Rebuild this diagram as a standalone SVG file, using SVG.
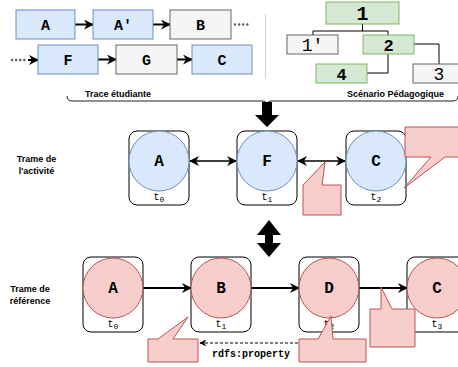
<svg xmlns="http://www.w3.org/2000/svg" width="458" height="367" viewBox="0 0 458 367">
<style>
.blue{fill:#dae8fc;stroke:#6c8ebf;stroke-width:1}
.grey{fill:#f5f5f5;stroke:#666666;stroke-width:1}
.green{fill:#d5e8d4;stroke:#82b366;stroke-width:1}
.red{fill:#f8cecc;stroke:#b85450;stroke-width:1}
.frame{fill:#ffffff;stroke:#000000;stroke-width:1}
.mono{font-family:"Liberation Mono","Courier New",monospace;fill:#000;text-anchor:middle}
.b{font-weight:bold}
.sans{font-family:"Liberation Sans",Arial,Helvetica,sans-serif;font-weight:bold;font-size:9px;fill:#000}
.edge{fill:none;stroke:#000;}
.dot{fill:none;stroke:#5a5a6a;stroke-width:2.4;stroke-dasharray:0.1 4;stroke-linecap:round}
</style>
<defs>
<marker id="ah" viewBox="0 0 10 10" refX="9" refY="5" markerUnits="userSpaceOnUse" markerWidth="10" markerHeight="10" orient="auto-start-reverse">
<path d="M0,0 L10,5 L0,10 L3,5 Z" fill="#000"/>
</marker>
<marker id="ahs" viewBox="0 0 10 10" refX="9" refY="5" markerUnits="userSpaceOnUse" markerWidth="7" markerHeight="7" orient="auto-start-reverse">
<path d="M0,0 L10,5 L0,10 L3,5 Z" fill="#000"/>
</marker>
</defs>
<rect width="458" height="367" fill="#ffffff"/>

<!-- separator and brace -->
<line x1="265.5" y1="14" x2="265.5" y2="79" stroke="#d0d0d0" stroke-width="1"/>
<path d="M67,96 Q67,101 72,101 L262,101 Q267,101 267,104 Q267,101 272,101 L453,101 Q458,101 458,96" fill="none" stroke="#222" stroke-width="1"/>
<text class="sans" x="85" y="97">Trace étudiante</text>
<text class="sans" x="444" y="97" text-anchor="end">Scénario Pédagogique</text>

<g id="connectors">
<!-- top trace -->
<line class="edge" x1="75" y1="24.5" x2="93" y2="24.5" stroke-width="2" marker-end="url(#ah)"/>
<line class="edge" x1="153" y1="24.5" x2="170" y2="24.5" stroke-width="2" marker-end="url(#ah)"/>
<line class="dot" x1="235" y1="24.5" x2="251" y2="24.5"/>
<line class="dot" x1="12" y1="60" x2="28" y2="60"/>
<line class="edge" x1="28" y1="60" x2="38" y2="60" stroke-width="2" marker-end="url(#ah)"/>
<line class="edge" x1="98" y1="59.5" x2="116" y2="59.5" stroke-width="2" marker-end="url(#ah)"/>
<line class="edge" x1="177" y1="59.5" x2="192" y2="59.5" stroke-width="2" marker-end="url(#ah)"/>
<!-- tree -->
<path class="edge" d="M362.5,24 V31 M313,35 V31 H388 V35 M414,44 H439 V64 M388,54 V73 H367" stroke-width="1"/>
<!-- activity -->
<line class="edge" x1="190" y1="161" x2="236" y2="161" stroke-width="1.5" marker-start="url(#ah)" marker-end="url(#ah)"/>
<line class="edge" x1="298" y1="161" x2="345" y2="161" stroke-width="1.5" marker-start="url(#ah)" marker-end="url(#ah)"/>
<!-- reference -->
<line class="edge" x1="143" y1="288" x2="191" y2="288" stroke-width="2" marker-end="url(#ah)"/>
<line class="edge" x1="251" y1="288" x2="299" y2="288" stroke-width="2" marker-end="url(#ah)"/>
<line class="edge" x1="359" y1="288" x2="407" y2="288" stroke-width="2" marker-end="url(#ah)"/>
<!-- big arrows -->
<path d="M262,102 L272,102 L272,115 L279,115 L267,127 L255,115 L262,115 Z" fill="#000"/>
<path d="M269,220 L281,235 L273,235 L273,243 L281,243 L269,257 L257,243 L265,243 L265,235 L257,235 Z" fill="#000"/>
<!-- rdfs -->
<line class="edge" x1="298" y1="343" x2="200" y2="343" stroke-width="1" stroke-dasharray="3 2" marker-end="url(#ahs)"/>
<text class="mono b" x="251" y="357" font-size="10">rdfs:property</text>
</g>

<!-- trace boxes -->
<g id="tA"><rect class="blue" x="16" y="10" width="59" height="29"/><text class="mono b" x="45.5" y="30" font-size="15">A</text></g>
<g id="tA2"><rect class="blue" x="93" y="10" width="60" height="29"/><text class="mono b" x="123" y="30" font-size="15">A'</text></g>
<g id="tB"><rect class="grey" x="170" y="10" width="61" height="29"/><text class="mono b" x="200.5" y="30" font-size="15">B</text></g>
<g id="tF"><rect class="blue" x="38" y="45" width="60" height="29"/><text class="mono b" x="68" y="65" font-size="15">F</text></g>
<g id="tG"><rect class="grey" x="116" y="45" width="61" height="29"/><text class="mono b" x="146.5" y="65" font-size="15">G</text></g>
<g id="tC"><rect class="blue" x="192" y="45" width="60" height="29"/><text class="mono b" x="222" y="65" font-size="15">C</text></g>

<!-- tree -->
<g id="s1"><rect class="green" x="326" y="2" width="73" height="22"/><text class="mono b" x="362.5" y="20" font-size="20">1</text></g>
<g id="s1p"><rect class="grey" x="287" y="35" width="51" height="19"/><text class="mono" x="312.5" y="51" font-size="18">1'</text></g>
<g id="s2"><rect class="green" x="363" y="35" width="51" height="19"/><text class="mono b" x="388.5" y="51" font-size="17">2</text></g>
<g id="s4"><rect class="green" x="316" y="64" width="51" height="19"/><text class="mono b" x="341.5" y="80" font-size="17">4</text></g>
<g id="s3"><rect class="grey" x="413" y="64" width="52" height="19"/><text class="mono" x="439" y="80" font-size="18">3</text></g>

<!-- activity frame -->
<text class="sans" x="36.5" y="162" text-anchor="middle">Trame de</text>
<text class="sans" x="36.5" y="174" text-anchor="middle">l'activité</text>
<g id="aA"><rect class="frame" x="129" y="131" width="60" height="74" rx="8"/><circle class="blue" cx="159" cy="161" r="30"/><text class="mono b" x="159" y="166" font-size="16">A</text><text class="mono" x="159" y="200" font-size="10">t<tspan font-size="8" dy="2">0</tspan></text></g>
<g id="aF"><rect class="frame" x="237" y="131" width="60" height="74" rx="8"/><circle class="blue" cx="267" cy="161" r="30"/><text class="mono b" x="267" y="166" font-size="16">F</text><text class="mono" x="267" y="200" font-size="10">t<tspan font-size="8" dy="2">1</tspan></text></g>
<g id="aC"><rect class="frame" x="346" y="131" width="60" height="74" rx="8"/><circle class="blue" cx="376" cy="161" r="30"/><text class="mono b" x="376" y="166" font-size="16">C</text><text class="mono" x="376" y="200" font-size="10">t<tspan font-size="8" dy="2">2</tspan></text></g>

<!-- reference frame -->
<text class="sans" x="30" y="292" text-anchor="middle">Trame de</text>
<text class="sans" x="30" y="304" text-anchor="middle">référence</text>
<g id="rA"><rect class="frame" x="83" y="257" width="60" height="75" rx="8"/><circle class="red" cx="113" cy="288" r="30"/><text class="mono b" x="113" y="293" font-size="16">A</text><text class="mono" x="113" y="327" font-size="10">t<tspan font-size="8" dy="2">0</tspan></text></g>
<g id="rB"><rect class="frame" x="191" y="257" width="60" height="75" rx="8"/><circle class="red" cx="221" cy="288" r="30"/><text class="mono b" x="221" y="293" font-size="16">B</text><text class="mono" x="221" y="327" font-size="10">t<tspan font-size="8" dy="2">1</tspan></text></g>
<g id="rD"><rect class="frame" x="299" y="257" width="60" height="75" rx="8"/><circle class="red" cx="329" cy="288" r="30"/><text class="mono b" x="329" y="293" font-size="16">D</text><text class="mono" x="329" y="327" font-size="10">t<tspan font-size="8" dy="2">2</tspan></text></g>
<g id="rC"><rect class="frame" x="407" y="257" width="60" height="75" rx="8"/><circle class="red" cx="437" cy="288" r="30"/><text class="mono b" x="437" y="293" font-size="16">C</text><text class="mono" x="437" y="327" font-size="10">t<tspan font-size="8" dy="2">3</tspan></text></g>

<!-- callouts -->
<g id="call1"><path class="red" d="M303,185 L325,162 L322,185 L341,185 L341,215 L303,215 Z"/></g>
<g id="call2"><path class="red" d="M405,127 L470,127 L470,157 L445,157 L404,188 L431,157 L405,157 Z"/></g>
<g id="call3"><path class="red" d="M148,339 L158,339 L188,317 L173,339 L198,339 L198,362 L148,362 Z"/></g>
<g id="call4"><path class="red" d="M299,339 L318,339 L331,316 L333,339 L366,339 L366,362 L299,362 Z"/></g>
<g id="call5"><path class="red" d="M370,309 L381,309 L381,287 L392,309 L415,309 L415,347 L370,347 Z"/></g>
</svg>
